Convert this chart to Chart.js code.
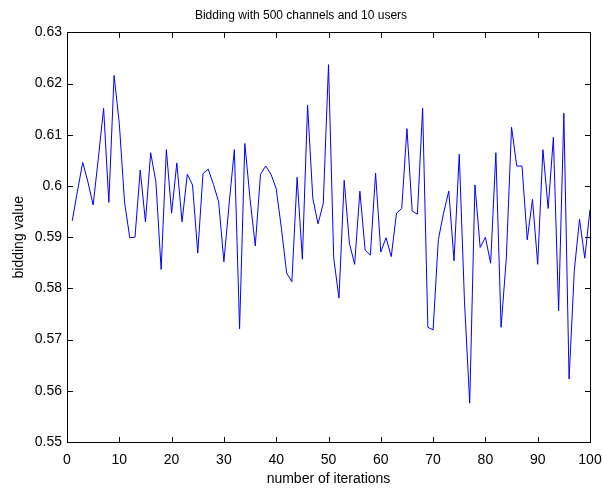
<!DOCTYPE html>
<html>
<head>
<meta charset="utf-8">
<script src="https://cdn.jsdelivr.net/npm/chart.js@4.4.1/dist/chart.umd.min.js"></script>
<style>
  html, body { margin: 0; padding: 0; background: #fff; }
  #wrap { position: relative; width: 602px; height: 489px; }
  #frame { position: absolute; box-sizing: border-box; border: 1px solid #000; pointer-events: none; }
  .tk { position: absolute; background: #000; pointer-events: none; }
</style>
</head>
<body>
<div id="wrap">
  <canvas id="chart" width="602" height="489"></canvas>
  <div id="frame"></div>
</div>
<script>
// data
const iterations = [];
for (let i = 1; i <= 100; i++) iterations.push(i);

const bidding = [
  0.5932, 0.5990, 0.6046, 0.6008, 0.5963, 0.6055, 0.6152, 0.5968, 0.6216, 0.6122,
  0.5969, 0.5899, 0.5900, 0.6031, 0.5930, 0.6065, 0.6008, 0.5837, 0.6071, 0.5947,
  0.6045, 0.5930, 0.6023, 0.6002, 0.5869, 0.6024, 0.6033, 0.6003, 0.5969, 0.5852,
  0.5965, 0.6071, 0.5721, 0.6083, 0.5975, 0.5883, 0.6023, 0.6039, 0.6023, 0.5995,
  0.5917, 0.5830, 0.5813, 0.6017, 0.5857, 0.6158, 0.5976, 0.5926, 0.5966, 0.6237,
  0.5859, 0.5781, 0.6011, 0.5888, 0.5847, 0.5990, 0.5875, 0.5865, 0.6025, 0.5871,
  0.5899, 0.5862, 0.5947, 0.5956, 0.6112, 0.5951, 0.5945, 0.6152, 0.5724, 0.5719,
  0.5895, 0.5947, 0.5990, 0.5854, 0.6062, 0.5775, 0.5576, 0.6002, 0.5880, 0.5900,
  0.5849, 0.6065, 0.5724, 0.5859, 0.6115, 0.6039, 0.6039, 0.5895, 0.5974, 0.5847,
  0.6071, 0.5956, 0.6095, 0.5756, 0.6142, 0.5623, 0.5835, 0.5935, 0.5859, 0.5954
];

const xTicks = [0, 10, 20, 30, 40, 50, 60, 70, 80, 90, 100];
const yTicks = [0.55, 0.56, 0.57, 0.58, 0.59, 0.60, 0.61, 0.62, 0.63];

const fontFam = "'Liberation Sans', Arial, Helvetica, sans-serif";

const chart = new Chart(document.getElementById('chart'), {
  type: 'line',
  data: {
    datasets: [{
      data: iterations.map((x, i) => ({ x: x, y: bidding[i] })),
      borderColor: '#0000ff',
      borderWidth: 1,
      pointRadius: 0,
      tension: 0,
      fill: false
    }]
  },
  options: {
    responsive: false,
    animation: false,
    layout: { padding: 0 },
    plugins: {
      legend: { display: false },
      tooltip: { enabled: false },
      title: {
        display: true,
        text: 'Bidding with 500 channels and 10 users',
        color: '#000',
        font: { family: fontFam, size: 12, weight: 'normal' },
        padding: { top: 8, bottom: 10 }
      }
    },
    scales: {
      x: {
        type: 'linear',
        min: 0,
        max: 100,
        afterBuildTicks: s => { s.ticks = xTicks.map(v => ({ value: v })) },
        afterFit: s => { s.height = 47; s.paddingRight = 12; s.paddingLeft = 0 },
        grid: { display: false, drawTicks: false, tickLength: 0 },
        border: { display: false },
        ticks: {
          color: '#000',
          padding: 10,
          maxRotation: 0,
          font: { family: fontFam, size: 14 }
        },
        title: {
          display: true,
          text: 'number of iterations',
          color: '#000',
          font: { family: fontFam, size: 14 },
          padding: { top: 0, bottom: 1 }
        }
      },
      y: {
        min: 0.55,
        max: 0.63,
        afterBuildTicks: s => { s.ticks = yTicks.map(v => ({ value: v })) },
        afterFit: s => { s.width = 67 },
        grid: { display: false, drawTicks: false, tickLength: 0 },
        border: { display: false },
        ticks: {
          color: '#000',
          padding: 5,
          font: { family: fontFam, size: 14 },
          callback: v => String(Number(v.toFixed(2)))
        },
        title: {
          display: true,
          text: 'bidding value',
          color: '#000',
          font: { family: fontFam, size: 14 },
          padding: { top: 11, bottom: 0 }
        }
      }
    }
  }
});

// matlab style box and inward ticks laid over the plot area
const ca = chart.chartArea
const L = Math.round(ca.left), R = Math.round(ca.right)
const T = Math.round(ca.top), B = Math.round(ca.bottom)
const wrap = document.getElementById('wrap')
const fr = document.getElementById('frame')
fr.style.left = L + 'px'
fr.style.top = T + 'px'
fr.style.width = (R - L + 1) + 'px'
fr.style.height = (B - T + 1) + 'px'

function tick(x, y, w, h) {
  const d = document.createElement('div')
  d.className = 'tk'
  d.style.left = x + 'px'
  d.style.top = y + 'px'
  d.style.width = w + 'px'
  d.style.height = h + 'px'
  wrap.appendChild(d)
}
const len = 5
xTicks.forEach(v => {
  const px = Math.round(chart.scales.x.getPixelForValue(v))
  tick(px, B - len, 1, len)
  tick(px, T + 1, 1, len)
})
yTicks.forEach(v => {
  const py = Math.round(chart.scales.y.getPixelForValue(v))
  tick(L + 1, py, len, 1)
  tick(R - len, py, len, 1)
})
</script>
</body>
</html>
